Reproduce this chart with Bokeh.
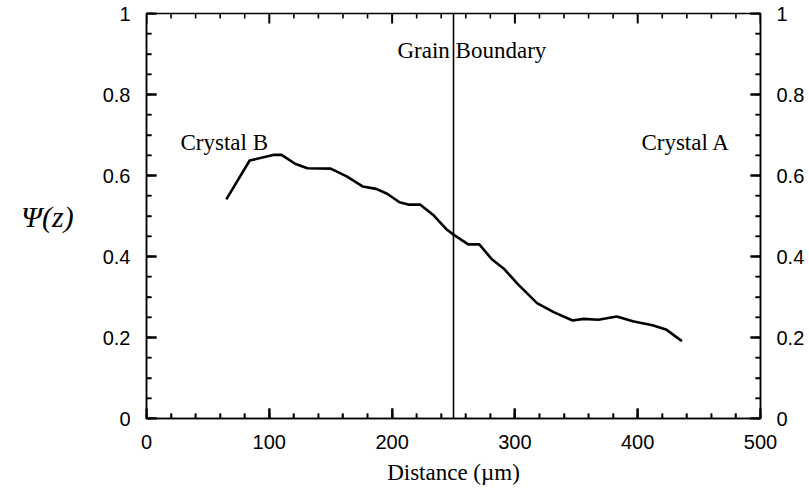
import numpy as np
from bokeh.plotting import figure
from bokeh.models import Range1d, LinearAxis, SingleIntervalTicker, NumeralTickFormatter, Span, Label
from bokeh.embed import file_html
from bokeh.resources import INLINE

# ---- data ----
distance = [65, 84, 104, 110, 121, 131, 150, 163, 176, 187, 196, 206, 214, 223,
            234, 244, 250, 262, 271, 281, 291, 302, 318, 332, 347, 356, 368, 383,
            396, 412, 423, 436]
psi = [0.541, 0.637, 0.651, 0.651, 0.629, 0.618, 0.617, 0.598, 0.573, 0.567,
       0.555, 0.534, 0.528, 0.528, 0.501, 0.468, 0.454, 0.430, 0.430, 0.394,
       0.370, 0.333, 0.285, 0.262, 0.242, 0.246, 0.244, 0.252, 0.240, 0.230,
       0.220, 0.191]
grain_boundary = 250
x_limits = (0.0, 500.0)
y_limits = (0.0, 1.0)
x_major_ticks = [0.0, 100.0, 200.0, 300.0, 400.0, 500.0]
x_minor_step = 20.0
y_major_ticks = [0.0, 0.2, 0.4, 0.6, 0.8, 1.0]
y_minor_step = 0.05

x_minor_ticks = [float(v) for v in np.arange(x_limits[0], x_limits[1] + 1e-9, x_minor_step)
                 if min(abs(v - m) for m in x_major_ticks) > 1e-6]
y_minor_ticks = [round(float(v), 4) for v in np.arange(y_limits[0], y_limits[1] + 1e-9, y_minor_step)
                 if min(abs(v - m) for m in y_major_ticks) > 1e-6]

W, H = 809, 495
BL, BR, BT, BB = 146, 49, 13, 77
frame_w, frame_h = W - BL - BR, H - BT - BB
px_x = (x_limits[1] - x_limits[0]) / frame_w   # data units per pixel, x
px_y = (y_limits[1] - y_limits[0]) / frame_h   # data units per pixel, y

p = figure(width=W, height=H,
           x_range=Range1d(*x_limits), y_range=Range1d(*y_limits),
           output_backend="svg", toolbar_location=None,
           min_border_left=BL, min_border_right=BR,
           min_border_top=BT, min_border_bottom=BB,
           background_fill_color="white", border_fill_color="white")
p.xgrid.visible = False
p.ygrid.visible = False
p.outline_line_color = "black"
p.outline_line_width = 1.5

MAJ, MIN = 10.0, 5.0


def style_axis(ax, interval, nminor, labels=True):
    ax.ticker = SingleIntervalTicker(interval=interval, num_minor_ticks=nminor)
    ax.formatter = NumeralTickFormatter(format="0.[0]")
    ax.major_tick_in = int(MAJ)
    ax.major_tick_out = 0
    ax.minor_tick_in = int(MIN)
    ax.minor_tick_out = 0
    ax.major_tick_line_width = 2
    ax.minor_tick_line_width = 1.6
    ax.major_tick_line_color = "black"
    ax.minor_tick_line_color = "black"
    ax.axis_line_color = "black"
    ax.axis_line_width = 1.5
    ax.major_label_text_font = "Liberation Sans"
    ax.major_label_text_color = "black"
    ax.major_label_text_font_size = "20px"
    ax.major_label_standoff = 16


xb = p.xaxis[0]
yl = p.yaxis[0]
style_axis(xb, 100, 5)
style_axis(yl, 0.2, 4)

xb.axis_label = "Distance (\u00b5m)"
xb.axis_label_text_font = "Liberation Serif"
xb.axis_label_text_font_style = "normal"
xb.axis_label_text_font_size = "23px"
xb.axis_label_text_color = "black"
xb.axis_label_standoff = 8

yl.axis_label = "\u03a8(z)"
yl.axis_label_text_font = "Liberation Serif"
yl.axis_label_text_font_style = "italic"
yl.axis_label_text_font_size = "30px"
yl.axis_label_text_color = "black"
yl.axis_label_standoff = 26
if "axis_label_orientation" in yl.properties():
    yl.axis_label_orientation = "horizontal"

yr = LinearAxis()
style_axis(yr, 0.2, 4)
p.add_layout(yr, "right")

# inward tick marks on all four sides (segments, lengths converted from pixels)
x0, x1 = x_limits
y0, y1 = y_limits
tx0, ty0, tx1, ty1, tw = [], [], [], [], []
for v in x_major_ticks:
    tx0 += [v, v]; tx1 += [v, v]
    ty0 += [y0, y1]; ty1 += [y0 + MAJ * px_y, y1 - MAJ * px_y]
    tw += [2.0, 2.0]
for v in x_minor_ticks:
    tx0 += [v, v]; tx1 += [v, v]
    ty0 += [y0, y1]; ty1 += [y0 + MIN * px_y, y1 - MIN * px_y]
    tw += [1.6, 1.6]
for v in y_major_ticks:
    ty0 += [v, v]; ty1 += [v, v]
    tx0 += [x0, x1]; tx1 += [x0 + MAJ * px_x, x1 - MAJ * px_x]
    tw += [2.0, 2.0]
for v in y_minor_ticks:
    ty0 += [v, v]; ty1 += [v, v]
    tx0 += [x0, x1]; tx1 += [x0 + MIN * px_x, x1 - MIN * px_x]
    tw += [1.6, 1.6]
p.segment(x0=tx0, y0=ty0, x1=tx1, y1=ty1, line_color="black", line_width=tw)

# curve
p.line(distance, psi, line_color="black", line_width=2.6, line_join="round")

# grain boundary
p.add_layout(Span(location=grain_boundary, dimension="height",
                  line_color="black", line_width=1.6))

# annotations
serif = dict(text_font="Liberation Serif", text_font_size="23px", text_color="black")
p.add_layout(Label(x=27.7, y=0.681, text="Crystal B", text_align="left",
                   text_baseline="alphabetic", **serif))
p.add_layout(Label(x=204.4, y=0.909, text="Grain Boundary", text_align="left",
                   text_baseline="alphabetic", **serif))
p.add_layout(Label(x=403, y=0.681, text="Crystal A", text_align="left",
                   text_baseline="alphabetic", **serif))

open("out.html", "w").write(file_html(p, INLINE))
